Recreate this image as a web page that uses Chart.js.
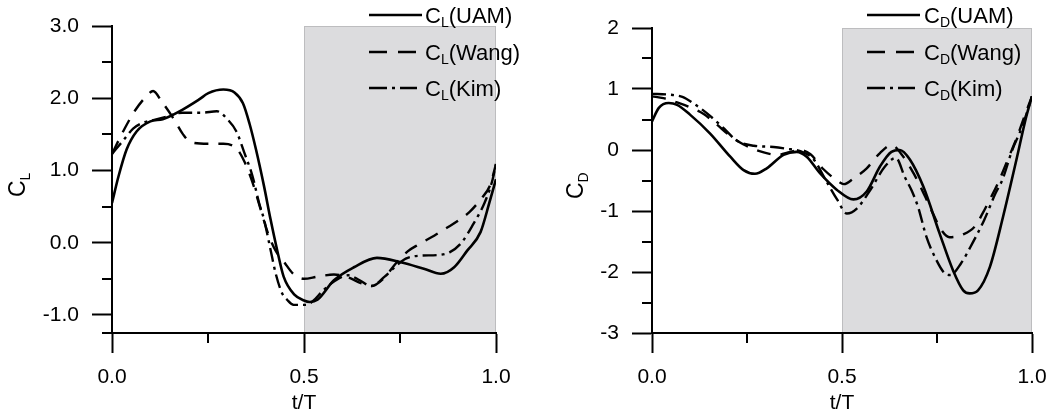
<!DOCTYPE html>
<html>
<head>
<meta charset="utf-8">
<script src="https://cdn.jsdelivr.net/npm/chart.js@4.4.1/dist/chart.umd.min.js"></script>
<style>
  html, body { margin: 0; padding: 0; background: #fff; }
  #wrap { position: relative; width: 1060px; height: 417px; overflow: hidden; }
  #chart-cl { position: absolute; left: 0; top: 0; }
  #chart-cd { position: absolute; left: 530px; top: 0; }
</style>
</head>
<body>
<div id="wrap">
  <canvas id="chart-cl" width="545" height="417"></canvas>
  <canvas id="chart-cd" width="530" height="417"></canvas>
</div>
<script>
/* Lift / drag coefficients over one flapping period, UAM vs Wang vs Kim */

const seriesNames = ['UAM', 'Wang', 'Kim'];

// t/T ticks, shared by both panels
const xMajor = [0, 0.5, 1.0];
const xMinor = [0.25, 0.75];
const shadeRange = [0.5, 1.0];

// C_L panel, [t/T, value]
const clUam = [
  [0, 0.55], [0.017, 0.92], [0.038, 1.29], [0.064, 1.54], [0.10, 1.68], [0.132, 1.71],
  [0.183, 1.84], [0.226, 1.98], [0.251, 2.07], [0.29, 2.12], [0.319, 2.08], [0.341, 1.93],
  [0.358, 1.65], [0.375, 1.29], [0.396, 0.78], [0.413, 0.32], [0.43, -0.10], [0.447, -0.47],
  [0.475, -0.72], [0.5, -0.80], [0.515, -0.82], [0.535, -0.79], [0.578, -0.52], [0.63, -0.34],
  [0.69, -0.21], [0.752, -0.27], [0.812, -0.36], [0.856, -0.43], [0.891, -0.34], [0.925, -0.11],
  [0.96, 0.15], [0.982, 0.54], [1.0, 0.88]
];
const clWang = [
  [0, 1.23], [0.03, 1.55], [0.06, 1.83], [0.09, 2.03], [0.107, 2.10], [0.13, 1.95], [0.16, 1.72],
  [0.185, 1.50], [0.205, 1.39], [0.25, 1.37], [0.29, 1.37], [0.325, 1.30], [0.345, 1.12],
  [0.365, 0.85], [0.385, 0.50], [0.405, 0.15], [0.425, -0.10], [0.45, -0.28], [0.47, -0.42],
  [0.5, -0.50], [0.535, -0.47], [0.578, -0.44], [0.615, -0.48], [0.648, -0.56], [0.675, -0.60],
  [0.71, -0.48], [0.74, -0.28], [0.77, -0.12], [0.80, -0.02], [0.84, 0.10], [0.87, 0.20],
  [0.90, 0.30], [0.93, 0.42], [0.96, 0.60], [0.985, 0.80], [1.0, 1.09]
];
const clKim = [
  [0, 1.23], [0.03, 1.42], [0.055, 1.58], [0.08, 1.66], [0.11, 1.70], [0.14, 1.74], [0.183, 1.80],
  [0.234, 1.80], [0.273, 1.82], [0.302, 1.70], [0.324, 1.54], [0.345, 1.24], [0.366, 0.92],
  [0.383, 0.55], [0.396, 0.32], [0.413, -0.10], [0.426, -0.42], [0.443, -0.70], [0.456, -0.79],
  [0.473, -0.86], [0.507, -0.86], [0.525, -0.80], [0.55, -0.66], [0.58, -0.53], [0.615, -0.45],
  [0.645, -0.52], [0.675, -0.60], [0.71, -0.47], [0.74, -0.32], [0.765, -0.22], [0.80, -0.18],
  [0.85, -0.17], [0.88, -0.13], [0.91, 0.0], [0.94, 0.25], [0.97, 0.55], [0.99, 0.85], [1.0, 1.09]
];
const clYMajor = [-1, 0, 1, 2, 3];
const clYMinor = [-1.25, -0.5, 0.5, 1.5, 2.5];

// C_D panel, [t/T, value]
const cdUam = [
  [0, 0.47], [0.018, 0.69], [0.044, 0.77], [0.066, 0.74], [0.10, 0.58], [0.153, 0.27],
  [0.206, -0.11], [0.241, -0.33], [0.271, -0.39], [0.302, -0.30], [0.346, -0.08], [0.381, -0.03],
  [0.407, -0.11], [0.442, -0.38], [0.486, -0.65], [0.53, -0.81], [0.565, -0.68], [0.60, -0.27],
  [0.63, -0.03], [0.652, 0.0], [0.679, -0.16], [0.714, -0.60], [0.757, -1.37], [0.792, -1.97],
  [0.819, -2.30], [0.836, -2.35], [0.858, -2.30], [0.889, -1.92], [0.924, -1.09], [0.959, -0.16],
  [0.985, 0.55], [1.0, 0.88]
];
const cdWang = [
  [0, 0.88], [0.03, 0.85], [0.066, 0.78], [0.10, 0.70], [0.136, 0.59], [0.17, 0.42], [0.206, 0.23],
  [0.241, 0.09], [0.294, -0.04], [0.33, -0.08], [0.364, -0.03], [0.39, 0.0], [0.417, -0.07],
  [0.452, -0.32], [0.487, -0.50], [0.505, -0.56], [0.53, -0.47], [0.565, -0.30], [0.60, -0.05],
  [0.63, 0.08], [0.66, -0.10], [0.69, -0.40], [0.72, -0.78], [0.74, -1.05], [0.76, -1.30],
  [0.783, -1.43], [0.82, -1.38], [0.85, -1.25], [0.87, -1.04], [0.89, -0.80], [0.91, -0.55],
  [0.94, -0.10], [0.96, 0.20], [0.98, 0.55], [1.0, 0.88]
];
const cdKim = [
  [0, 0.92], [0.04, 0.91], [0.08, 0.87], [0.11, 0.76], [0.145, 0.60], [0.19, 0.35], [0.224, 0.15],
  [0.268, 0.07], [0.32, 0.05], [0.355, 0.02], [0.39, -0.02], [0.425, -0.15], [0.456, -0.48],
  [0.487, -0.81], [0.513, -1.04], [0.539, -0.96], [0.574, -0.66], [0.613, -0.27], [0.642, -0.13],
  [0.665, -0.44], [0.683, -0.66], [0.70, -0.93], [0.722, -1.42], [0.748, -1.80], [0.77, -2.02],
  [0.785, -2.05], [0.813, -1.86], [0.843, -1.53], [0.874, -1.15], [0.904, -0.71], [0.922, -0.49],
  [0.948, 0.0], [0.974, 0.38], [0.996, 0.80], [1.0, 0.88]
];
const cdYMajor = [-3, -2, -1, 0, 1, 2];
const cdYMinor = [-2.5, -1.5, -0.5, 0.5, 1.5];

const FONT = '"Liberation Sans", Arial, sans-serif';
const lineDash   = [[], [14, 10], [14, 5, 3, 5]];
const legendDash = [[], [18, 11], [18, 5, 3, 5]];
const legendLen  = [53, 48, 48];

// C + subscript + rest, left-aligned at (x, baseline)
function drawSubText(ctx, x, y, main, sub, rest, size) {
  ctx.textAlign = 'left';
  ctx.textBaseline = 'alphabetic';
  ctx.font = `${size}px ${FONT}`;
  ctx.fillText(main, x, y);
  x += ctx.measureText(main).width;
  const subSize = Math.round(size * 0.62);
  ctx.font = `${subSize}px ${FONT}`;
  ctx.fillText(sub, x, y + Math.round(size * 0.2));
  x += ctx.measureText(sub).width;
  if (rest) {
    ctx.font = `${size}px ${FONT}`;
    ctx.fillText(rest, x, y);
  }
}

function makePanel(p) {
  const decorations = {
    id: 'decorations',
    beforeDraw(chart) {
      const { ctx, chartArea: a, scales: { x } } = chart;
      const x0 = x.getPixelForValue(shadeRange[0]);
      const x1 = x.getPixelForValue(shadeRange[1]);
      ctx.save();
      ctx.fillStyle = '#dcdcde';
      ctx.fillRect(x0, a.top, x1 - x0, a.bottom - a.top);
      ctx.strokeStyle = '#bdbdbf';
      ctx.lineWidth = 1;
      ctx.strokeRect(Math.round(x0) + 0.5, Math.round(a.top) + 0.5, Math.round(x1 - x0) - 1, a.bottom - a.top);
      ctx.restore();
    },
    afterDraw(chart) {
      const { ctx, chartArea: a, scales: { x, y } } = chart;
      ctx.save();
      ctx.strokeStyle = '#000';
      ctx.lineWidth = 2;
      ctx.setLineDash([]);
      // minor ticks
      ctx.beginPath();
      xMinor.forEach(v => {
        const px = Math.round(x.getPixelForValue(v));
        ctx.moveTo(px, a.bottom);
        ctx.lineTo(px, a.bottom + 10);
      });
      p.yMinor.forEach(v => {
        const py = Math.round(y.getPixelForValue(v));
        ctx.moveTo(a.left - 10, py);
        ctx.lineTo(a.left, py);
      });
      ctx.stroke();

      // legend
      ctx.fillStyle = '#000';
      chart.data.datasets.forEach((ds, i) => {
        const ly = p.legendY[i];
        ctx.lineWidth = ds.borderWidth;
        ctx.setLineDash(legendDash[i]);
        ctx.beginPath();
        ctx.moveTo(p.legendX, ly);
        ctx.lineTo(p.legendX + legendLen[i], ly);
        ctx.stroke();
        ctx.setLineDash([]);
        drawSubText(ctx, p.legendTextX, ly + 8, 'C', p.sub, '(' + seriesNames[i] + ')', 22);
      });

      // y-axis title, rotated
      ctx.translate(p.titleX, p.titleY);
      ctx.rotate(-Math.PI / 2);
      drawSubText(ctx, 0, 0, 'C', p.sub, '', 23);
      ctx.restore();
    }
  };

  const axisCommon = {
    type: 'linear',
    grid: { drawOnChartArea: false, drawTicks: true, tickLength: 20, tickWidth: 2, tickColor: '#000' },
    border: { display: true, color: '#000', width: 2 },
  };

  return new Chart(document.getElementById(p.canvas), {
    type: 'line',
    data: {
      datasets: p.series.map((s, i) => ({
        label: 'C' + p.sub + '(' + seriesNames[i] + ')',
        data: s.map(([t, v]) => ({ x: t, y: v })),
        borderColor: '#000',
        borderWidth: i === 0 ? 2.6 : 2.4,
        borderDash: lineDash[i],
        pointRadius: 0,
        fill: false,
        cubicInterpolationMode: 'monotone'
      }))
    },
    options: {
      responsive: false,
      animation: false,
      events: [],
      layout: { padding: { top: p.padTop, right: p.padRight, left: 0, bottom: 0 } },
      plugins: { legend: { display: false }, tooltip: { enabled: false } },
      scales: {
        x: {
          ...axisCommon,
          min: 0, max: 1,
          afterBuildTicks: s => { s.ticks = xMajor.map(v => ({ value: v })); },
          afterFit: s => { s.height = 84; },
          ticks: {
            color: '#000', font: { family: FONT, size: 21 }, padding: 12,
            maxRotation: 0, autoSkip: false, callback: v => v.toFixed(1)
          },
          title: {
            display: true, text: 't/T', color: '#000',
            font: { family: FONT, size: 21 }, padding: { top: 0, bottom: 1 }
          }
        },
        y: {
          ...axisCommon,
          min: p.yMin, max: p.yMax,
          afterBuildTicks: s => { s.ticks = p.yMajor.map(v => ({ value: v })); },
          afterFit: s => { s.width = p.yWidth; },
          ticks: {
            color: '#000', font: { family: FONT, size: 21 }, padding: 13,
            autoSkip: false, callback: p.yFormat
          }
        }
      }
    },
    plugins: [decorations]
  });
}

makePanel({
  canvas: 'chart-cl', sub: 'L',
  series: [clUam, clWang, clKim],
  yMin: -1.25, yMax: 3.0, yMajor: clYMajor, yMinor: clYMinor,
  yFormat: v => v.toFixed(1),
  yWidth: 112, padTop: 26, padRight: 49,
  legendX: 369, legendTextX: 425, legendY: [15, 52, 88],
  titleX: 25, titleY: 197
});

makePanel({
  canvas: 'chart-cd', sub: 'D',
  series: [cdUam, cdWang, cdKim],
  yMin: -3, yMax: 2, yMajor: cdYMajor, yMinor: cdYMinor,
  yFormat: v => String(v),
  yWidth: 122, padTop: 28, padRight: 28,
  legendX: 337, legendTextX: 394, legendY: [15, 52, 88],
  titleX: 53, titleY: 199
});
</script>
</body>
</html>
